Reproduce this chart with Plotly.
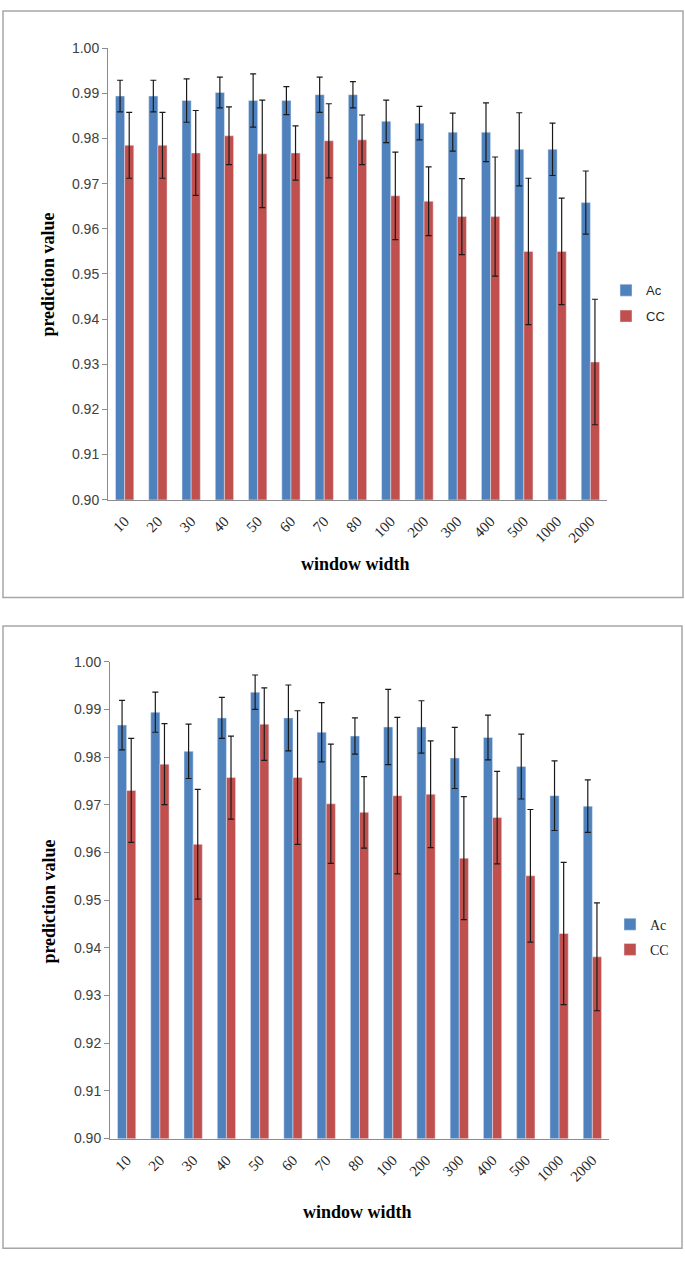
import plotly.graph_objects as go

W, H = 685, 1269

categories = ["10", "20", "30", "40", "50", "60", "70", "80", "100", "200", "300", "400", "500", "1000", "2000"]

top_ac = [0.9894, 0.9894, 0.9884, 0.9902, 0.9884, 0.9884, 0.9897, 0.9897, 0.9838, 0.9834, 0.9814, 0.9814, 0.9776, 0.9776, 0.9658]
top_ac_err = [0.0035, 0.0035, 0.0048, 0.0034, 0.0059, 0.0031, 0.0039, 0.0029, 0.0047, 0.0037, 0.0042, 0.0065, 0.0081, 0.0058, 0.0070]
top_cc = [0.9785, 0.9785, 0.9768, 0.9806, 0.9766, 0.9768, 0.9795, 0.9797, 0.9673, 0.9661, 0.9627, 0.9627, 0.9550, 0.9550, 0.9305]
top_cc_err = [0.0073, 0.0073, 0.0094, 0.0064, 0.0119, 0.0060, 0.0082, 0.0055, 0.0097, 0.0076, 0.0084, 0.0132, 0.0162, 0.0118, 0.0139]

bot_ac = [0.9867, 0.9894, 0.9812, 0.9882, 0.9936, 0.9882, 0.9852, 0.9844, 0.9863, 0.9863, 0.9798, 0.9841, 0.9780, 0.9719, 0.9697]
bot_ac_err = [0.0052, 0.0042, 0.0057, 0.0043, 0.0036, 0.0069, 0.0062, 0.0038, 0.0079, 0.0055, 0.0064, 0.0047, 0.0068, 0.0073, 0.0055]
bot_cc = [0.9730, 0.9785, 0.9617, 0.9757, 0.9869, 0.9757, 0.9702, 0.9684, 0.9719, 0.9722, 0.9588, 0.9673, 0.9551, 0.9430, 0.9381]
bot_cc_err = [0.0109, 0.0085, 0.0115, 0.0087, 0.0076, 0.0140, 0.0125, 0.0075, 0.0164, 0.0112, 0.0129, 0.0097, 0.0139, 0.0149, 0.0113]

series_names = ["Ac", "CC"]
y_ticks = [0.90, 0.91, 0.92, 0.93, 0.94, 0.95, 0.96, 0.97, 0.98, 0.99, 1.00]

BLUE = "#4F81BD"
RED = "#C0504D"


def px(x):
    return x / W


def py(y):
    return 1 - y / H


def err(arr):
    return dict(type="data", array=arr, visible=True, color="#1a1a1a", thickness=1.2, width=3)


fig = go.Figure()
fig.add_trace(go.Bar(x=categories, y=top_ac, name=series_names[0], marker_color=BLUE, error_y=err(top_ac_err),
                     xaxis="x", yaxis="y", legend="legend", legendgroup="a"))
fig.add_trace(go.Bar(x=categories, y=top_cc, name=series_names[1], marker_color=RED, error_y=err(top_cc_err),
                     xaxis="x", yaxis="y", legend="legend", legendgroup="b"))
fig.add_trace(go.Bar(x=categories, y=bot_ac, name=series_names[0], marker_color=BLUE, error_y=err(bot_ac_err),
                     xaxis="x2", yaxis="y2", legend="legend2", legendgroup="c"))
fig.add_trace(go.Bar(x=categories, y=bot_cc, name=series_names[1], marker_color=RED, error_y=err(bot_cc_err),
                     xaxis="x2", yaxis="y2", legend="legend2", legendgroup="d"))

axis_col = "#8c8c8c"
ytick_font = dict(family="Liberation Sans, Arial, sans-serif", size=14, color="#404040")
xtick_font = dict(family="Liberation Serif, Times New Roman, serif", size=15, color="#262626")

common_y = dict(range=[0.90, 1.00], tickvals=y_ticks, tickformat=".2f", showgrid=False, zeroline=False,
                showline=True, linecolor=axis_col, linewidth=1, ticks="outside", ticklen=5, tickcolor=axis_col,
                tickfont=ytick_font, fixedrange=True)
common_x = dict(type="category", categoryorder="array", categoryarray=categories, showgrid=False, zeroline=False,
                showline=True, linecolor=axis_col, linewidth=1, ticks="", tickangle=-45, tickfont=xtick_font,
                ticklabelstandoff=6, fixedrange=True)

fig.update_layout(
    width=W, height=H, autosize=False,
    margin=dict(l=0, r=0, t=0, b=0),
    paper_bgcolor="white", plot_bgcolor="white",
    barmode="group", bargap=0.45, bargroupgap=0.0,
    xaxis=dict(domain=[px(108), px(607)], anchor="y", **common_x),
    yaxis=dict(domain=[py(498), py(40.7)], anchor="x", **common_y),
    xaxis2=dict(domain=[px(110), px(609)], anchor="y2", **common_x),
    yaxis2=dict(domain=[py(1145), py(662)], anchor="x2", **common_y),
    legend=dict(x=px(606), y=py(299), xanchor="left", yanchor="middle", tracegroupgap=6, itemwidth=30,
                font=dict(family="Liberation Sans, Arial, sans-serif", size=13, color="#262626"),
                bgcolor="rgba(0,0,0,0)"),
    legend2=dict(x=px(610), y=py(941), xanchor="left", yanchor="middle", tracegroupgap=4, itemwidth=30,
                 font=dict(family="Liberation Serif, Times New Roman, serif", size=14, color="#262626"),
                 bgcolor="rgba(0,0,0,0)"),
    showlegend=True,
)

frame_col = "#a6a6a6"
fig.add_shape(type="rect", xref="paper", yref="paper", x0=px(3), x1=px(683), y0=py(597), y1=py(3),
              line=dict(color=frame_col, width=1.5), fillcolor="rgba(0,0,0,0)", layer="below")
fig.add_shape(type="rect", xref="paper", yref="paper", x0=px(3), x1=px(682), y0=py(1256), y1=py(626),
              line=dict(color=frame_col, width=1.5), fillcolor="rgba(0,0,0,0)", layer="below")

title_font = dict(family="Liberation Serif, Times New Roman, serif", size=18, color="black")
ann = [
    dict(text="<b>prediction value</b>", x=px(48), y=py(270), textangle=-90),
    dict(text="<b>prediction value</b>", x=px(49), y=py(905), textangle=-90),
    dict(text="<b>window width</b>", x=px(355), y=py(563), textangle=0),
    dict(text="<b>window width</b>", x=px(357), y=py(1219), textangle=0),
]
for a in ann:
    fig.add_annotation(xref="paper", yref="paper", showarrow=False, xanchor="center", yanchor="middle",
                       font=title_font, **a)

fig.write_html("out.html", config={"displayModeBar": False},
               post_script="document.body.style.margin='0px';document.body.style.overflow='hidden';")
